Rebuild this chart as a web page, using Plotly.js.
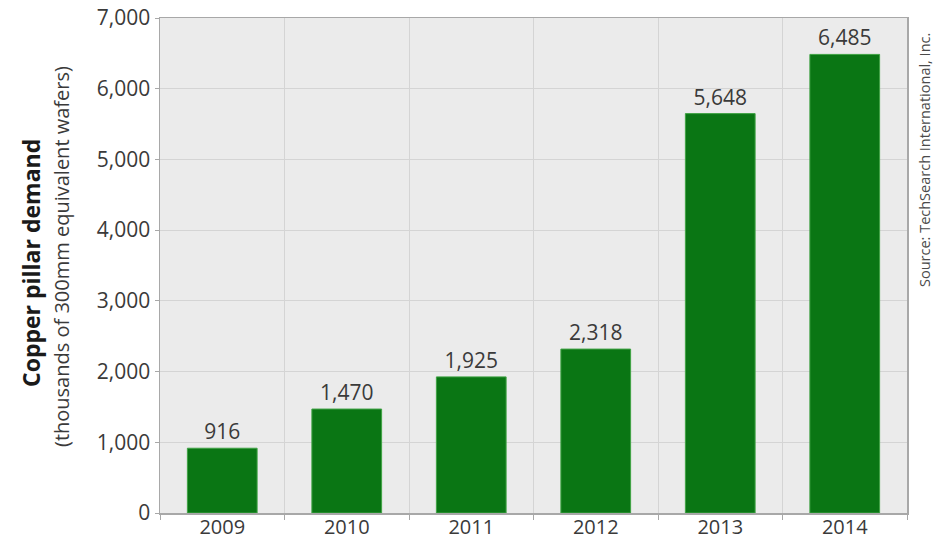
<!DOCTYPE html>
<html>
<head>
<meta charset="utf-8">
<script src="https://cdn.plot.ly/plotly-3.0.1.min.js"></script>
<style>html,body{margin:0;padding:0;background:#fff;}#chart{width:935px;height:542px;}</style>
</head>
<body>
<div id="chart"></div>
<script>
const years = ["2009", "2010", "2011", "2012", "2013", "2014"];
const demand = [916, 1470, 1925, 2318, 5648, 6485];
const demandLabels = ["916", "1,470", "1,925", "2,318", "5,648", "6,485"];
const yTickVals = [0, 1000, 2000, 3000, 4000, 5000, 6000, 7000];
const yTickText = ["0", "1,000", "2,000", "3,000", "4,000", "5,000", "6,000", "7,000"];

const W = 935, H = 542;
const margin = {l: 160, r: 28, t: 18, b: 29};
const plotW = W - margin.l - margin.r;
const plotH = H - margin.t - margin.b;
const px = x => (x - margin.l) / plotW;
const py = y => (H - margin.b - y) / plotH;

const font = "Open Sans, Noto Sans, sans-serif";
const textColor = "#3a3a3a";

const trace = {
  type: "bar",
  x: years,
  y: demand,
  text: demandLabels,
  textposition: "outside",
  cliponaxis: false,
  textfont: {family: font, size: 21, color: textColor},
  marker: {color: "#0a7614", line: {color: "#3fa344", width: 1}},
  hoverinfo: "x+y"
};

const layout = {
  width: W, height: H,
  margin: margin,
  paper_bgcolor: "#ffffff",
  plot_bgcolor: "#ebebeb",
  bargap: 0.44,
  showlegend: false,
  font: {family: font, color: textColor},
  xaxis: {
    type: "category",
    tickson: "boundaries",
    ticks: "outside",
    ticklen: 5,
    tickcolor: "#a8a8a8",
    ticklabelstandoff: -5,
    showgrid: true,
    gridcolor: "#d4d4d4",
    gridwidth: 1,
    showline: true,
    linecolor: "#a8a8a8",
    linewidth: 1.5,
    mirror: true,
    tickfont: {family: font, size: 20, color: textColor},
    zeroline: false
  },
  yaxis: {
    range: [0, 7000],
    tickvals: yTickVals,
    ticktext: yTickText,
    ticks: "outside",
    ticklen: 4,
    tickcolor: "#a8a8a8",
    showgrid: true,
    gridcolor: "#d4d4d4",
    gridwidth: 1,
    showline: true,
    linecolor: "#a8a8a8",
    linewidth: 1.5,
    mirror: true,
    zeroline: false,
    tickfont: {family: font, size: 21, color: textColor}
  },
  annotations: [
    {
      text: "<b>Copper pillar demand</b>",
      xref: "paper", yref: "paper",
      x: px(31), y: py(263),
      xanchor: "center", yanchor: "middle",
      textangle: -90, showarrow: false,
      font: {family: font, size: 23, color: "#1a1a1a"}
    },
    {
      text: "(thousands of 300mm equivalent wafers)",
      xref: "paper", yref: "paper",
      x: px(61), y: py(257),
      xanchor: "center", yanchor: "middle",
      textangle: -90, showarrow: false,
      font: {family: font, size: 20, color: textColor}
    },
    {
      text: "Source: TechSearch International, Inc.",
      xref: "paper", yref: "paper",
      x: px(925), y: py(160),
      xanchor: "center", yanchor: "middle",
      textangle: -90, showarrow: false,
      font: {family: font, size: 14.5, color: "#4a4a4a"}
    }
  ]
};

Plotly.newPlot("chart", [trace], layout, {displayModeBar: false, staticPlot: true});
</script>
</body>
</html>
